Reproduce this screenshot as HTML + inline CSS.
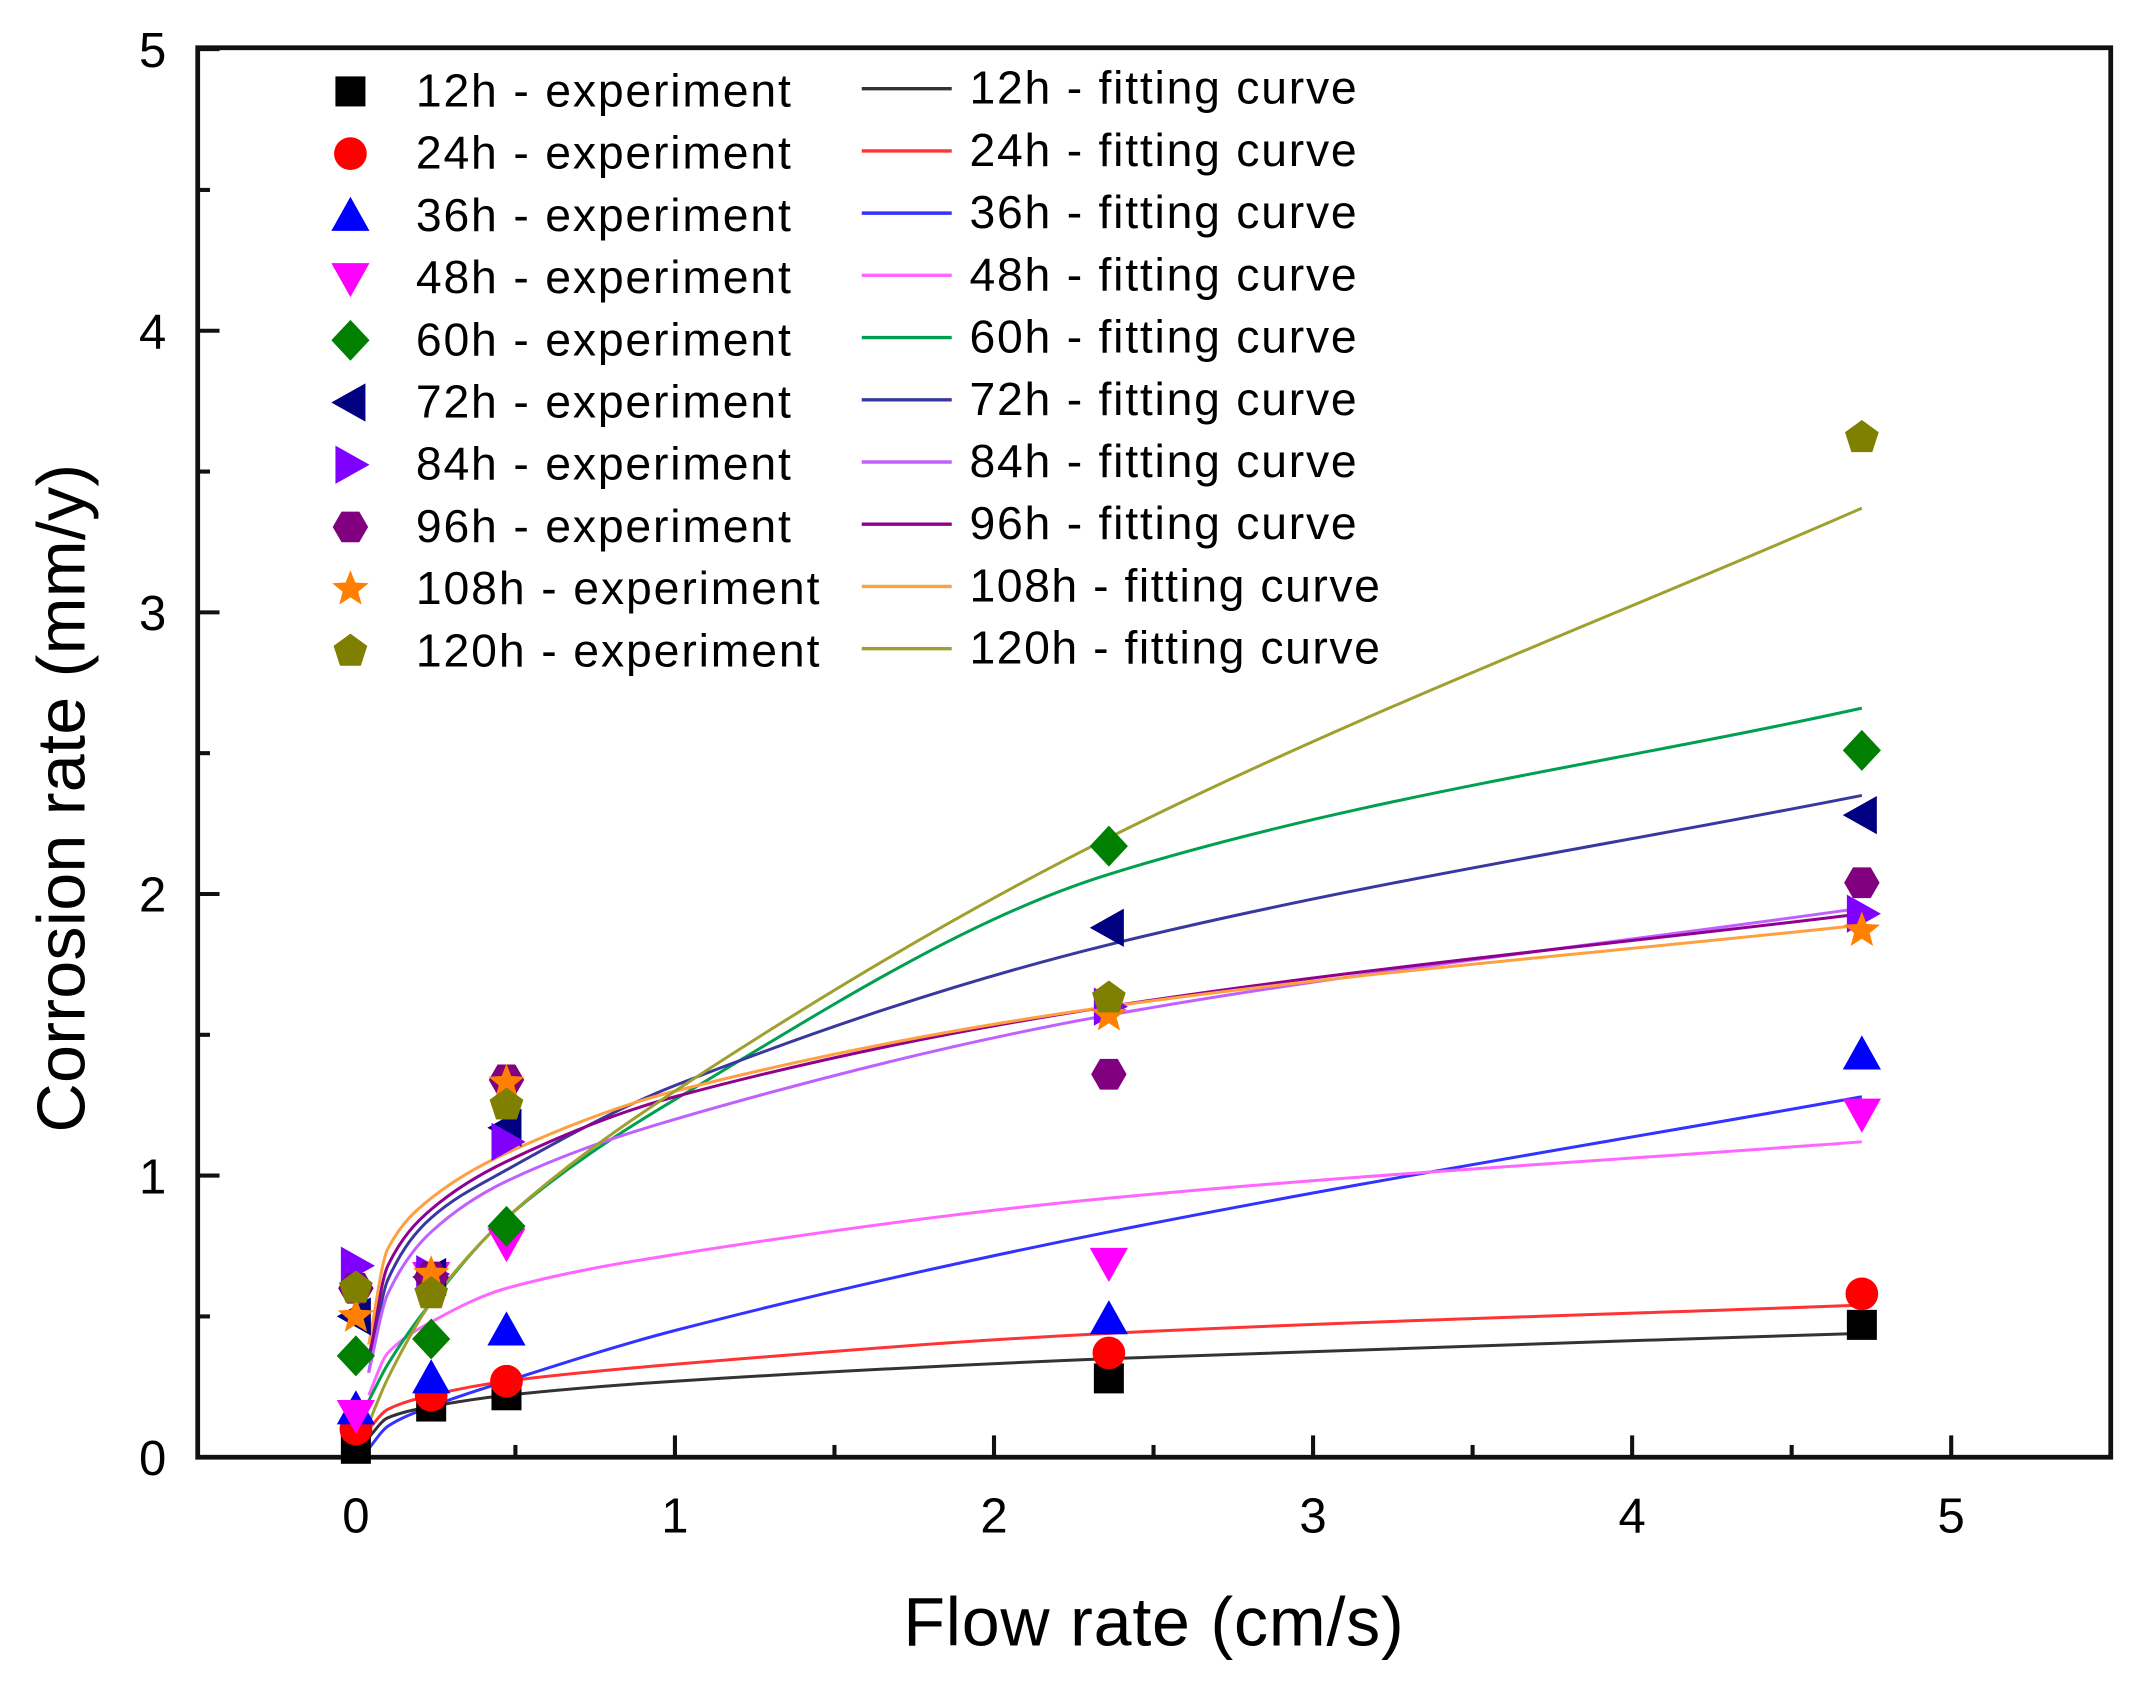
<!DOCTYPE html>
<html><head><meta charset="utf-8"><style>html,body{margin:0;padding:0;background:#fff}svg{display:block}text{font-family:"Liberation Sans",sans-serif}</style></head>
<body>
<svg id="s" width="2138" height="1681" viewBox="0 0 1568 1232" preserveAspectRatio="none" xmlns="http://www.w3.org/2000/svg">
<rect width="1568" height="1232" fill="#fff"/>
<g id="g"></g>
</svg>
<script>
const NS="http://www.w3.org/2000/svg",g=document.getElementById('g');
function el(t,a,txt){const e=document.createElementNS(NS,t);for(const k in a)e.setAttribute(k,a[k]);if(txt!==undefined)e.textContent=txt;g.appendChild(e);return e;}
const X=x=>261+234*x, Y=y=>1068-206.4*y;
for(let i=0;i<=10;i++){const v=i/2,len=i%2?9:16;
 el('line',{x1:X(v),x2:X(v),y1:1068,y2:1068-len,stroke:'#111','stroke-width':3});
 el('line',{x1:145,x2:145+len,y1:Y(v),y2:Y(v),stroke:'#111','stroke-width':3});
 if(i%2==0){el('text',{x:X(v),y:1123,'font-size':36,'text-anchor':'middle'},v);
  el('text',{x:122,y:Y(v)+13,'font-size':36,'text-anchor':'end'},v);}
}
el('rect',{x:145,y:35,width:1403,height:1033,fill:'none',stroke:'#111','stroke-width':3.5});
el('text',{x:846,y:1206,'font-size':50,'text-anchor':'middle',textLength:367},'Flow rate (cm/s)');
el('text',{x:0,y:0,'font-size':50,'text-anchor':'middle',textLength:490,transform:'translate(62,585) rotate(-90)'},'Corrosion rate (mm/y)');
const names=['12h','24h','36h','48h','60h','72h','84h','96h','108h','120h'];
const mc=['#000','#f00','#00f','#f0f','#007f00','#000080','#8000ff','#800080','#ff8000','#808000'];
const lc=['#333','#f33','#33f','#f6f','#00a050','#3838a0','#c060ff','#900090','#ffa040','#a0a030'];
const cx=[0.04,0.1,0.236,0.472,1,2.36,4.72];
const cv=[[0.07,0.14,0.18,0.22,0.27,0.35,0.44],[0.1,0.17,0.22,0.27,0.33,0.44,0.54],[0.03,0.11,0.18,0.27,0.45,0.8,1.28],[0.22,0.37,0.48,0.6,0.72,0.92,1.12],[0.2,0.33,0.55,0.85,1.27,2.07,2.66],[0.3,0.63,0.85,1.02,1.32,1.82,2.35],[0.3,0.58,0.8,0.98,1.2,1.57,1.95],[0.35,0.68,0.88,1.05,1.28,1.6,1.93],[0.4,0.74,0.92,1.08,1.3,1.6,1.89],[0.12,0.28,0.55,0.85,1.3,2.2,3.37]];
const dx=[0,0.236,0.472,2.36,4.72];
const dv=[[0.03,0.18,0.22,0.28,0.47],[0.1,0.22,0.27,0.37,0.58],[0.17,0.28,0.45,0.49,1.43],[0.15,0.64,0.76,0.69,1.22],[0.36,0.42,0.82,2.17,2.51],[0.5,0.64,1.17,1.88,2.28],[0.68,0.65,1.12,1.6,1.93],[0.6,0.64,1.34,1.36,2.04],[0.5,0.65,1.33,1.57,1.87],[0.6,0.58,1.25,1.63,3.62]];
function spline(xs,ys){
 const P=xs.map((x,i)=>[X(x),Y(ys[i])]);const n=P.length,m=[];
 const d=[];for(let i=0;i<n-1;i++)d.push((P[i+1][1]-P[i][1])/(P[i+1][0]-P[i][0]));
 m[0]=d[0];m[n-1]=d[n-2];for(let i=1;i<n-1;i++)m[i]=d[i-1]*d[i]<=0?0:2/(1/d[i-1]+1/d[i]);
 let s=`M${P[0][0]},${P[0][1]}`;
 for(let i=0;i<n-1;i++){const h=(P[i+1][0]-P[i][0])/3;s+=` C${P[i][0]+h},${P[i][1]+m[i]*h} ${P[i+1][0]-h},${P[i+1][1]-m[i+1]*h} ${P[i+1][0]},${P[i+1][1]}`;}
 return s;}
function marker(k,x,y,c){const r=13;
 switch(k){
 case 0:el('rect',{x:x-11,y:y-11,width:22,height:22,fill:c});break;
 case 1:el('circle',{cx:x,cy:y,r:12,fill:c});break;
 case 2:el('polygon',{points:`${x},${y-14} ${x+14},${y+11} ${x-14},${y+11}`,fill:c});break;
 case 3:el('polygon',{points:`${x},${y+14} ${x+14},${y-11} ${x-14},${y-11}`,fill:c});break;
 case 4:el('polygon',{points:`${x},${y-15} ${x+14},${y} ${x},${y+15} ${x-14},${y}`,fill:c});break;
 case 5:el('polygon',{points:`${x-14},${y} ${x+11},${y-14} ${x+11},${y+14}`,fill:c});break;
 case 6:el('polygon',{points:`${x+14},${y} ${x-11},${y-14} ${x-11},${y+14}`,fill:c});break;
 case 7:case 9:{const n=k==7?6:5,pts=[];for(let i=0;i<n;i++){const a=-Math.PI/2+i*2*Math.PI/n+(k==7?Math.PI/6:0);pts.push((x+r*Math.cos(a))+','+(y+r*Math.sin(a)));}el('polygon',{points:pts.join(' '),fill:c});break;}
 case 8:{const pts=[];for(let i=0;i<10;i++){const rr=i%2?6:14,a=-Math.PI/2+i*Math.PI/5;pts.push((x+rr*Math.cos(a))+','+(y+rr*Math.sin(a)));}el('polygon',{points:pts.join(' '),fill:c});break;}
 }}
for(let i=0;i<10;i++)el('path',{d:spline(cx,cv[i]),fill:'none',stroke:lc[i],'stroke-width':2.2});
for(let i=0;i<10;i++)for(let j=0;j<5;j++)marker(i,X(dx[j]),Y(dv[i][j]),mc[i]);
for(let i=0;i<10;i++){const y=67+45.6*i;
 marker(i,257,y,mc[i]);
 el('text',{x:305,y:y+11,'font-size':34,textLength:(i>=8?296:275)},names[i]+' - experiment');
 el('line',{x1:632,x2:698,y1:y-2,y2:y-2,stroke:lc[i],'stroke-width':2.5});
 el('text',{x:711,y:y+9,'font-size':34,textLength:(i>=8?301:284)},names[i]+' - fitting curve');}
</script>
</body></html>
